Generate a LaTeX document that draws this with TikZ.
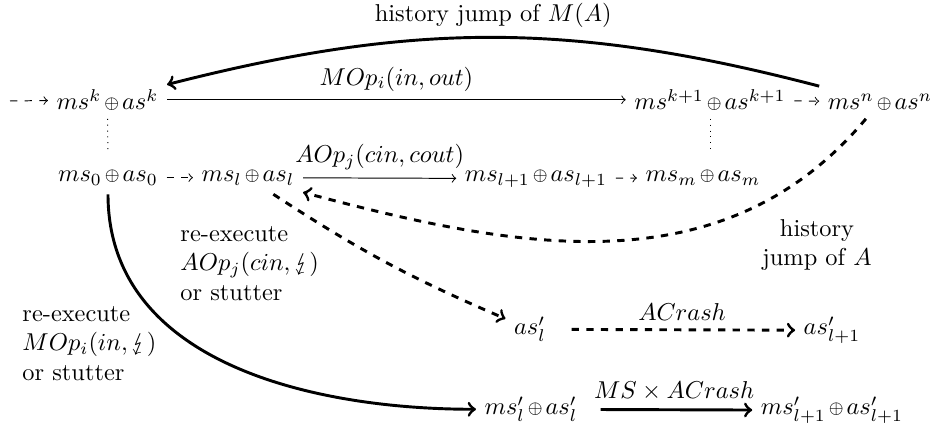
\documentclass[tikz,border=0pt]{standalone}
\usepackage{stmaryrd}
\usetikzlibrary{calc}

% pequeno oplus entre los dos estados
\newcommand{\xo}{\mkern2mu\vcenter{\hbox{$\scriptstyle\oplus$}}\mkern2mu}

\begin{document}
\begin{tikzpicture}[x=0.0144cm, y=0.0144cm]
	% Estilos
	\tikzset{
		st/.style={anchor=base},
		hop/.style={->, dashed},
		jump/.style={->, very thick},
		jumpdash/.style={->, very thick, dashed},
		note/.style={inner sep=0pt, align=left, anchor=north west},
	}
	\useasboundingbox (0,0) rectangle (937,430);
	
	% --- Estados (fila de arriba) ---
	\coordinate (in) at (10,329);
	\node[st] (Nk)  at (107.5,320) {$ms^k\xo as^k$};
	\node[st] (Nk1) at (710,320) {$ms^{k+1}\xo as^{k+1}$};
	\node[st] (Nn)  at (880,320) {$ms^n\xo as^n$};
	
	% --- Estados (segunda fila) ---
	\node[st] (N0)  at (108,248) {$ms_0\xo as_0$};
	\node[st] (Nl)  at (248,248) {$ms_l\xo as_l$};
	\node[st] (Nl1) at (536,248) {$ms_{l+1}\xo as_{l+1}$};
	\node[st] (Nm)  at (703,248) {$ms_m\xo as_m$};
	
	% --- Estados tras el crash ---
	\node[st] (Al)  at (530,95) {$as'_l$};
	\node[st] (Al1) at (832,95) {$as'_{l+1}$};
	\node[st] (Ml)  at (531,15) {$ms'_l\xo as'_l$};
	\node[st] (Ml1) at (832,15) {$ms'_{l+1}\xo as'_{l+1}$};
	
	% --- Pasos normales ---
	\draw[hop] (in) -- (Nk);
	\draw[->] (Nk) -- node[above] {$MOp_i(in,out)$} (Nk1);
	\draw[hop] (Nk1) -- (Nn);
	\draw[hop] (N0) -- (Nl);
	\draw[->] (Nl) -- node[above] {$AOp_j(cin,cout)$} (Nl1);
	\draw[hop] (Nl1) -- (Nm);
	\draw[dotted, shorten >=3pt] (Nk) -- (N0);
	\draw[dotted, shorten >=3pt] (Nk1) -- (Nk1 |- Nm.north);
	
	% --- Crash ---
	\draw[jumpdash, shorten <=7pt] (Al) -- node[above, pos=.53] {$ACrash$} (Al1);
	\draw[jump, shorten <=6pt] (Ml) -- node[above, pos=.53] {$MS\times ACrash$} (Ml1);
	
	% --- Saltos de historia ---
	\draw[jump] (Nn) to[bend right=14.5] node[above] {history jump of $M(A)$} (Nk);
	\draw[jumpdash] (Nn) to[out=-130, in=-15] (Nl);
	\node[inner sep=0pt, align=center, anchor=north] (jA) at (817,211) {history\\ jump of $A$};
	
	% --- Re-ejecucion ---
	\draw[jumpdash] (Nl) to[bend right=5] (Al);
	\draw[jump] (N0) to[out=-90, in=180] (Ml);
	\node[note] (reA) at (180,204) {re-execute\\ $AOp_j(cin,\lightning)$\\ or stutter};
	\node[note] (reM) at (22,124) {re-execute\\ $MOp_i(in,\lightning)$\\ or stutter};
	
\end{tikzpicture}
\end{document}
